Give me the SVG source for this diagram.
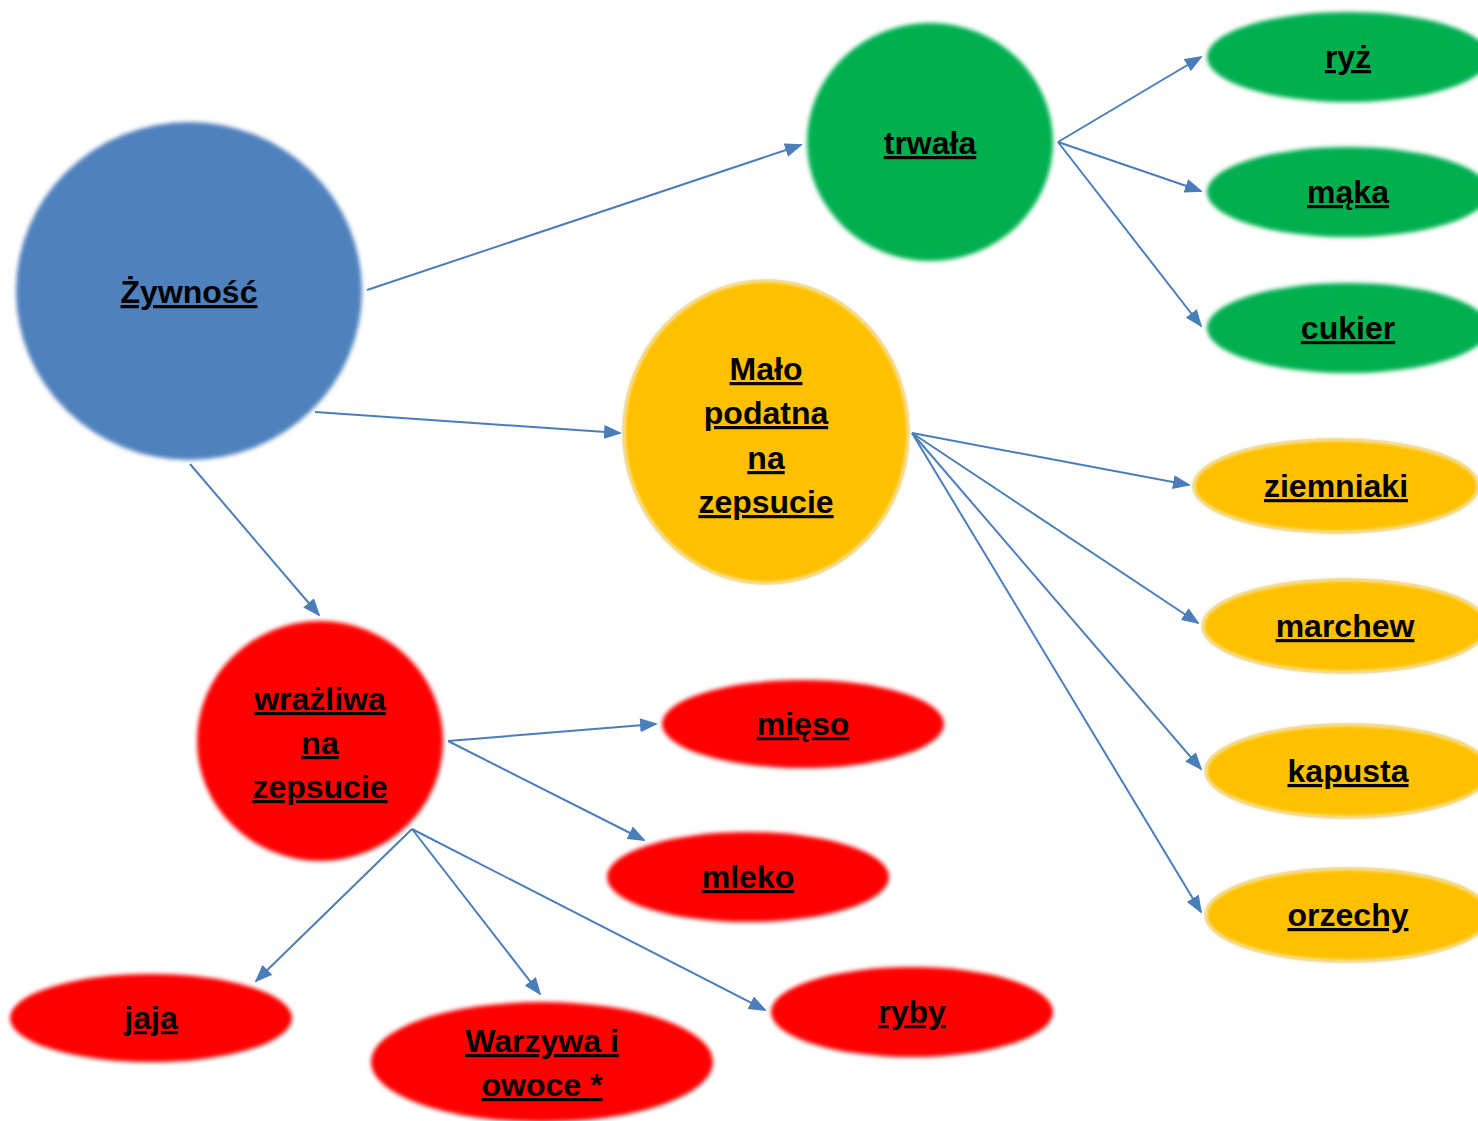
<svg xmlns="http://www.w3.org/2000/svg" width="1478" height="1121" viewBox="0 0 1478 1121">
<defs>
<filter id="soft" x="-10%" y="-10%" width="120%" height="120%"><feGaussianBlur stdDeviation="2.2"/></filter>
<marker id="arr" markerWidth="9" markerHeight="7" refX="8" refY="3.5" orient="auto" markerUnits="strokeWidth"><path d="M0,0 L9,3.5 L0,7 z" fill="#4A7EBB"/></marker>
</defs>
<style>
.blue{fill:#4F81BD}
.green{fill:#00B050}
.yellow{fill:#FFC000}
.red{fill:#FF0000}
.glow{fill:none;stroke:#E4EAF2;stroke-width:2}
text{font-family:"Liberation Sans",Arial,sans-serif;font-weight:bold;font-size:32px;text-anchor:middle;text-decoration:underline;fill:#000}
.conn line{stroke:#4A7EBB;stroke-width:2;marker-end:url(#arr)}
</style>
<rect width="1478" height="1121" fill="#fff"/>
<g class="conn">
<line x1="367" y1="290" x2="801" y2="145"/>
<line x1="315" y1="412" x2="620" y2="433"/>
<line x1="190" y1="464" x2="319" y2="615"/>
<line x1="1058" y1="142" x2="1201" y2="57"/>
<line x1="1058" y1="142" x2="1201" y2="191"/>
<line x1="1058" y1="142" x2="1201" y2="326"/>
<line x1="912" y1="433" x2="1189" y2="485"/>
<line x1="912" y1="433" x2="1198" y2="623"/>
<line x1="912" y1="433" x2="1201" y2="769"/>
<line x1="912" y1="433" x2="1201" y2="912"/>
<line x1="448" y1="741" x2="656" y2="724"/>
<line x1="448" y1="741" x2="644" y2="840"/>
<line x1="412" y1="829" x2="256" y2="981"/>
<line x1="412" y1="829" x2="540" y2="994"/>
<line x1="412" y1="829" x2="765" y2="1010"/>
</g>
<g id="n-zywnosc"><ellipse cx="189" cy="291" rx="173" ry="169" class="blue" filter="url(#soft)"/><text x="189" y="303">Żywność</text></g>
<g id="n-trwala"><ellipse cx="930" cy="142" rx="123" ry="119" class="green" filter="url(#soft)"/><text x="930" y="154">trwała</text></g>
<g id="n-ryz"><ellipse cx="1348" cy="57" rx="141" ry="45" class="green" filter="url(#soft)"/><text x="1348" y="68">ryż</text></g>
<g id="n-maka"><ellipse cx="1348" cy="192" rx="141" ry="45" class="green" filter="url(#soft)"/><text x="1348" y="203">mąka</text></g>
<g id="n-cukier"><ellipse cx="1348" cy="328" rx="141" ry="45" class="green" filter="url(#soft)"/><text x="1348" y="339">cukier</text></g>
<g id="n-malo"><ellipse cx="766" cy="432" rx="143" ry="152" class="glow"/><ellipse cx="766" cy="432" rx="142" ry="151" class="yellow" filter="url(#soft)"/><text x="766" y="380">Mało</text><text x="766" y="424">podatna</text><text x="766" y="469">na</text><text x="766" y="513">zepsucie</text></g>
<g id="n-ziemniaki"><ellipse cx="1336" cy="486" rx="143" ry="47" class="glow"/><ellipse cx="1336" cy="486" rx="142" ry="46" class="yellow" filter="url(#soft)"/><text x="1336" y="497">ziemniaki</text></g>
<g id="n-marchew"><ellipse cx="1345" cy="626" rx="143" ry="47" class="glow"/><ellipse cx="1345" cy="626" rx="142" ry="46" class="yellow" filter="url(#soft)"/><text x="1345" y="637">marchew</text></g>
<g id="n-kapusta"><ellipse cx="1348" cy="771" rx="143" ry="47" class="glow"/><ellipse cx="1348" cy="771" rx="142" ry="46" class="yellow" filter="url(#soft)"/><text x="1348" y="782">kapusta</text></g>
<g id="n-orzechy"><ellipse cx="1348" cy="915" rx="143" ry="47" class="glow"/><ellipse cx="1348" cy="915" rx="142" ry="46" class="yellow" filter="url(#soft)"/><text x="1348" y="926">orzechy</text></g>
<g id="n-wrazliwa"><ellipse cx="320" cy="741" rx="123" ry="120" class="red" filter="url(#soft)"/><text x="320" y="710">wrażliwa</text><text x="320" y="754">na</text><text x="320" y="798">zepsucie</text></g>
<g id="n-mieso"><ellipse cx="803" cy="724" rx="141" ry="44" class="red" filter="url(#soft)"/><text x="803" y="735">mięso</text></g>
<g id="n-mleko"><ellipse cx="748" cy="877" rx="141" ry="45" class="red" filter="url(#soft)"/><text x="748" y="888">mleko</text></g>
<g id="n-jaja"><ellipse cx="151" cy="1018" rx="141" ry="44" class="red" filter="url(#soft)"/><text x="151" y="1029">jaja</text></g>
<g id="n-warzywa"><ellipse cx="542" cy="1062" rx="171" ry="60" class="red" filter="url(#soft)"/><text x="542" y="1052">Warzywa i</text><text x="542" y="1096">owoce *</text></g>
<g id="n-ryby"><ellipse cx="912" cy="1012" rx="141" ry="45" class="red" filter="url(#soft)"/><text x="912" y="1023">ryby</text></g>
</svg>
